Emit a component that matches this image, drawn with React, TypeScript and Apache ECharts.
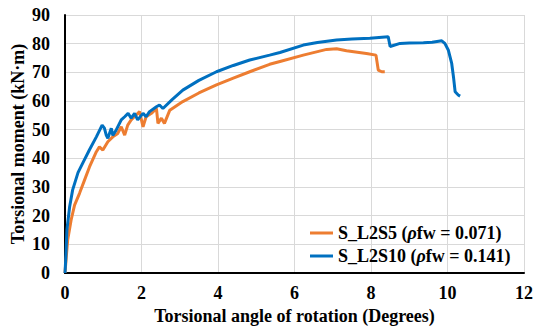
import React, { useEffect, useRef } from "react";
import * as echarts from "echarts";

const xTicks = [0, 2, 4, 6, 8, 10, 12];
const yTicks = [0, 10, 20, 30, 40, 50, 60, 70, 80, 90];

const seriesNames = ["S_L2S5", "S_L2S10"];
const rhoValues = ["0.071", "0.141"];

const orangeData: number[][] = [
  [0, 0], [0.03, 5], [0.07, 11.5], [0.16, 18.5], [0.25, 23.7], [0.38, 27.8], [0.51, 32.4],
  [0.64, 37], [0.82, 42.3], [0.9, 44], [0.99, 42.9], [1.12, 45.8], [1.25, 47.5], [1.38, 48.7],
  [1.47, 51], [1.56, 48.1], [1.64, 51.6], [1.73, 53.4], [1.86, 55.1], [1.95, 56.3], [2.04, 51],
  [2.12, 54.5], [2.26, 55.7], [2.39, 57.4], [2.43, 52.2], [2.52, 54], [2.6, 52.2], [2.74, 56.8],
  [3.08, 59.8], [3.5, 62.8], [3.96, 65.6], [4.4, 68], [4.83, 70.2], [5.35, 72.8], [5.62, 73.8],
  [6.23, 76], [6.84, 78], [7.1, 78.2], [7.36, 77.5], [7.88, 76.6], [8.13, 76], [8.19, 70.8],
  [8.28, 70.2], [8.36, 70.2],
];

const blueData: number[][] = [
  [0, 0], [0.02, 5], [0.05, 15], [0.12, 23], [0.2, 29], [0.34, 35], [0.47, 38.5], [0.64, 43],
  [0.82, 47.5], [0.97, 51.6], [1.03, 50.5], [1.08, 48], [1.12, 47], [1.21, 50.5], [1.25, 48],
  [1.34, 49.9], [1.47, 53.4], [1.56, 54.5], [1.65, 55.7], [1.73, 54], [1.82, 55.7], [1.9, 53.4],
  [2.04, 55.7], [2.12, 54.5], [2.21, 56.3], [2.39, 58], [2.47, 58.6], [2.56, 57.4], [2.8, 60.5],
  [3.08, 63.8], [3.5, 67.2], [3.96, 70.2], [4.4, 72.4], [4.83, 74.3], [5.35, 76], [5.62, 76.9],
  [6.23, 79.5], [6.6, 80.4], [7.1, 81.3], [7.5, 81.6], [7.97, 81.9], [8.45, 82.4], [8.5, 79],
  [8.76, 80.1], [9.0, 80.2], [9.37, 80.3], [9.6, 80.5], [9.85, 81], [9.93, 80.1], [10.02, 77.8],
  [10.11, 73.1], [10.16, 68], [10.2, 63.2], [10.28, 62.1], [10.33, 61.7],
];

const colors = ["#ED7D31", "#0070C0"];
const FONT = "'Liberation Serif', 'Times New Roman', serif";
const FS = 18;

export default function App() {
  const ref = useRef<HTMLDivElement>(null);
  useEffect(() => {
    if (!ref.current) return;
    const chart = echarts.init(ref.current, null, { renderer: "svg" });
    chart.setOption({
      animation: false,
      textStyle: { fontFamily: FONT },
      grid: { left: 65, right: 10, top: 15, bottom: 59, containLabel: false, outerBoundsMode: "none" },
      legend: {
        left: 305,
        top: 219,
        orient: "vertical",
        itemWidth: 23,
        itemHeight: 3,
        itemGap: 5,
        icon: "rect",
        textStyle: {
          fontFamily: FONT,
          fontWeight: "bold",
          fontSize: FS,
          color: "#000",
          rich: {
            n: { fontFamily: FONT, fontWeight: "bold", fontSize: FS, color: "#000" },
            i: { fontFamily: FONT, fontWeight: "bold", fontStyle: "italic", fontSize: FS, color: "#000" },
          },
        },
        formatter: (name: string) => {
          const idx = seriesNames.indexOf(name);
          return `{n|${name} (}{i|ρ}{n|fw = ${rhoValues[idx]})}`;
        },
        data: seriesNames,
      },
      xAxis: {
        type: "value",
        min: xTicks[0],
        max: xTicks[xTicks.length - 1],
        interval: 2,
        name: "Torsional angle of rotation (Degrees)",
        nameLocation: "middle",
        nameGap: 34,
        nameMoveOverlap: false,
        nameTextStyle: { fontFamily: FONT, fontWeight: "bold", fontSize: FS, color: "#000" },
        axisLine: { show: true, lineStyle: { color: "#000", width: 2 } },
        axisTick: { show: false },
        axisLabel: { fontFamily: FONT, fontWeight: "bold", fontSize: FS, color: "#000", margin: 11 },
        splitLine: { show: true, lineStyle: { color: "#d9d9d9", width: 1 } },
      },
      yAxis: {
        type: "value",
        min: yTicks[0],
        max: yTicks[yTicks.length - 1],
        interval: 10,
        name: "Torsional moment (kN·m)",
        nameLocation: "middle",
        nameGap: 38,
        nameMoveOverlap: false,
        nameTextStyle: { fontFamily: FONT, fontWeight: "bold", fontSize: FS, color: "#000" },
        axisLine: { show: true, lineStyle: { color: "#000", width: 2 } },
        axisTick: { show: false },
        axisLabel: { fontFamily: FONT, fontWeight: "bold", fontSize: FS, color: "#000", margin: 15 },
        splitLine: { show: true, lineStyle: { color: "#d9d9d9", width: 1 } },
      },
      series: [
        {
          name: seriesNames[0],
          type: "line",
          data: orangeData,
          showSymbol: false,
          lineStyle: { color: colors[0], width: 3 },
          itemStyle: { color: colors[0] },
          z: 2,
        },
        {
          name: seriesNames[1],
          type: "line",
          data: blueData,
          showSymbol: false,
          lineStyle: { color: colors[1], width: 3 },
          itemStyle: { color: colors[1] },
          z: 3,
        },
      ],
    });
    return () => chart.dispose();
  }, []);
  return <div ref={ref} style={{ width: 534, height: 332, position: "absolute", left: 0, top: 0 }} />;
}
